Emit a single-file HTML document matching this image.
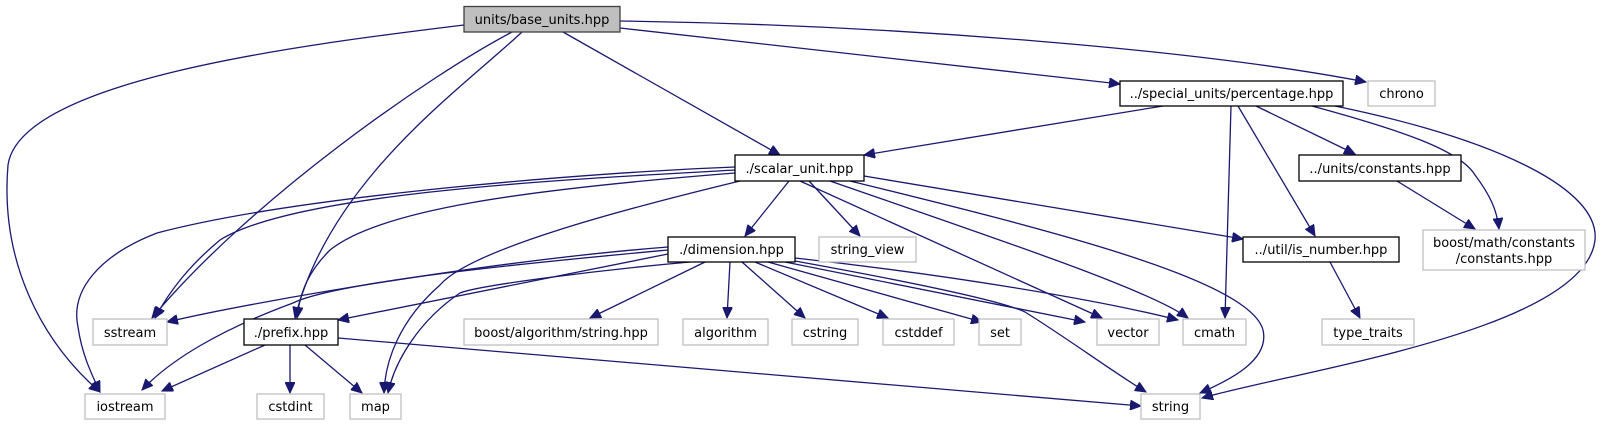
<!DOCTYPE html>
<html><head><meta charset="utf-8"><style>
html,body{margin:0;padding:0;background:#fff;}
svg{display:block;}
text{font-family:"DejaVu Sans","Liberation Sans",sans-serif;font-size:13px;fill:#000;}
.e{fill:none;stroke:#191970;stroke-width:1.3;}
.n{fill:#fff;stroke:#000;stroke-width:1.3;}
.x{fill:#fff;stroke:#bfbfbf;stroke-width:1.3;}
</style></head><body>
<svg width="1617" height="425" viewBox="0 0 1617 425" xmlns="http://www.w3.org/2000/svg">
<defs>
<marker id="a" markerUnits="userSpaceOnUse" markerWidth="12" markerHeight="10" refX="11" refY="5" orient="auto">
<path d="M0,0 L11,5 L0,10 Z" fill="#191970" stroke="#191970"/>
</marker>
</defs>
<g marker-end="url(#a)">
<!-- base_units -->
<path class="e" d="M464,25 C300,45 20,80 8,165 C0,260 40,340 100,392"/>
<path class="e" d="M512,32 C430,75 250,200 152,318"/>
<path class="e" d="M522,32 C460,90 330,180 295,318"/>
<path class="e" d="M563,32 L780,155"/>
<path class="e" d="M620,28 L1120,84"/>
<path class="e" d="M620,21 C900,25 1200,50 1366,82"/>
<!-- percentage -->
<path class="e" d="M1163,106 L864,155"/>
<path class="e" d="M1231,106 L1225,318"/>
<path class="e" d="M1238,106 L1315,236"/>
<path class="e" d="M1256,106 L1355,154"/>
<path class="e" d="M1312,106 C1400,130 1460,150 1475,175 C1490,195 1497,210 1499,229"/>
<path class="e" d="M1335,106 C1500,140 1600,190 1595,240 C1585,330 1300,370 1202,398"/>
<!-- constants / is_number -->
<path class="e" d="M1397,181 L1475,229"/>
<path class="e" d="M1330,262 L1360,318"/>
<!-- scalar_unit -->
<path class="e" d="M789,181 L745,236"/>
<path class="e" d="M809,181 L860,236"/>
<path class="e" d="M735,170 C600,178 300,190 220,240 C190,265 170,290 155,318"/>
<path class="e" d="M735,167 C600,172 300,195 157,233 C100,255 70,290 78,327 C82,355 92,375 100,392"/>
<path class="e" d="M735,173 C520,190 380,210 330,250 C310,270 300,290 297,318"/>
<path class="e" d="M740,181 C620,210 470,250 440,285 C400,320 385,360 384,393"/>
<path class="e" d="M800,181 L1102,318"/>
<path class="e" d="M830,181 C1000,240 1150,290 1188,318"/>
<path class="e" d="M850,181 C1050,230 1250,280 1263,330 C1270,360 1230,380 1200,393"/>
<path class="e" d="M864,176 L1243,239"/>
<!-- dimension -->
<path class="e" d="M668,247 C500,260 260,300 167,322"/>
<path class="e" d="M668,254 L338,320"/>
<path class="e" d="M668,250 C560,260 340,280 293,303 C220,330 170,360 142,390"/>
<path class="e" d="M690,262 C600,270 480,285 460,293 C420,320 395,360 388,393"/>
<path class="e" d="M705,262 L590,318"/>
<path class="e" d="M730,262 L727,318"/>
<path class="e" d="M742,262 L805,318"/>
<path class="e" d="M755,262 L888,318"/>
<path class="e" d="M768,262 L982,322"/>
<path class="e" d="M785,262 L1085,322"/>
<path class="e" d="M795,258 C950,275 1100,300 1178,320"/>
<path class="e" d="M795,261 C900,280 1000,300 1025,312 C1070,340 1110,370 1146,392"/>
<!-- prefix -->
<path class="e" d="M265,345 L162,391"/>
<path class="e" d="M290,345 L290,393"/>
<path class="e" d="M305,345 L362,393"/>
<path class="e" d="M338,338 L1141,406"/>
</g>
<!-- nodes -->
<rect x="464" y="6.5" width="156" height="25.5" fill="#bfbfbf" stroke="#404040" stroke-width="1.3"/>
<text x="542" y="24" text-anchor="middle">units/base_units.hpp</text>

<rect class="n" x="1120" y="81" width="223" height="25"/>
<text x="1231.5" y="98" text-anchor="middle">../special_units/percentage.hpp</text>
<rect class="x" x="1368" y="81" width="67" height="25"/>
<text x="1401.5" y="98" text-anchor="middle">chrono</text>

<rect class="n" x="735" y="155" width="129" height="26"/>
<text x="799.5" y="173" text-anchor="middle">./scalar_unit.hpp</text>
<rect class="n" x="1299" y="155" width="162" height="26"/>
<text x="1380" y="173" text-anchor="middle">../units/constants.hpp</text>

<rect class="n" x="668" y="237" width="127" height="25"/>
<text x="731.5" y="254" text-anchor="middle">./dimension.hpp</text>
<rect class="x" x="819" y="237" width="97" height="25"/>
<text x="867.5" y="254" text-anchor="middle">string_view</text>
<rect class="n" x="1243" y="237" width="156" height="25"/>
<text x="1321" y="254" text-anchor="middle">../util/is_number.hpp</text>
<rect class="x" x="1423" y="230" width="162" height="40"/>
<text x="1504" y="247" text-anchor="middle">boost/math/constants</text>
<text x="1504" y="263" text-anchor="middle">/constants.hpp</text>

<rect class="x" x="93" y="319" width="74" height="26"/>
<text x="130" y="337" text-anchor="middle">sstream</text>
<rect class="n" x="244" y="319" width="94" height="26"/>
<text x="291" y="337" text-anchor="middle">./prefix.hpp</text>
<rect class="x" x="464" y="319" width="194" height="26"/>
<text x="561" y="337" text-anchor="middle">boost/algorithm/string.hpp</text>
<rect class="x" x="683" y="319" width="85" height="26"/>
<text x="725.5" y="337" text-anchor="middle">algorithm</text>
<rect class="x" x="792" y="319" width="66" height="26"/>
<text x="825" y="337" text-anchor="middle">cstring</text>
<rect class="x" x="883" y="319" width="71" height="26"/>
<text x="918.5" y="337" text-anchor="middle">cstddef</text>
<rect class="x" x="979" y="319" width="42" height="26"/>
<text x="1000" y="337" text-anchor="middle">set</text>
<rect class="x" x="1097" y="319" width="62" height="26"/>
<text x="1128" y="337" text-anchor="middle">vector</text>
<rect class="x" x="1183" y="319" width="63" height="26"/>
<text x="1214.5" y="337" text-anchor="middle">cmath</text>
<rect class="x" x="1322" y="319" width="92" height="26"/>
<text x="1368" y="337" text-anchor="middle">type_traits</text>

<rect class="x" x="85" y="394" width="80" height="25"/>
<text x="125" y="411" text-anchor="middle">iostream</text>
<rect class="x" x="257" y="394" width="67" height="25"/>
<text x="290.5" y="411" text-anchor="middle">cstdint</text>
<rect class="x" x="350" y="394" width="51" height="25"/>
<text x="375.5" y="411" text-anchor="middle">map</text>
<rect class="x" x="1141" y="394" width="59" height="25"/>
<text x="1170.5" y="411" text-anchor="middle">string</text>
</svg>
</body></html>
